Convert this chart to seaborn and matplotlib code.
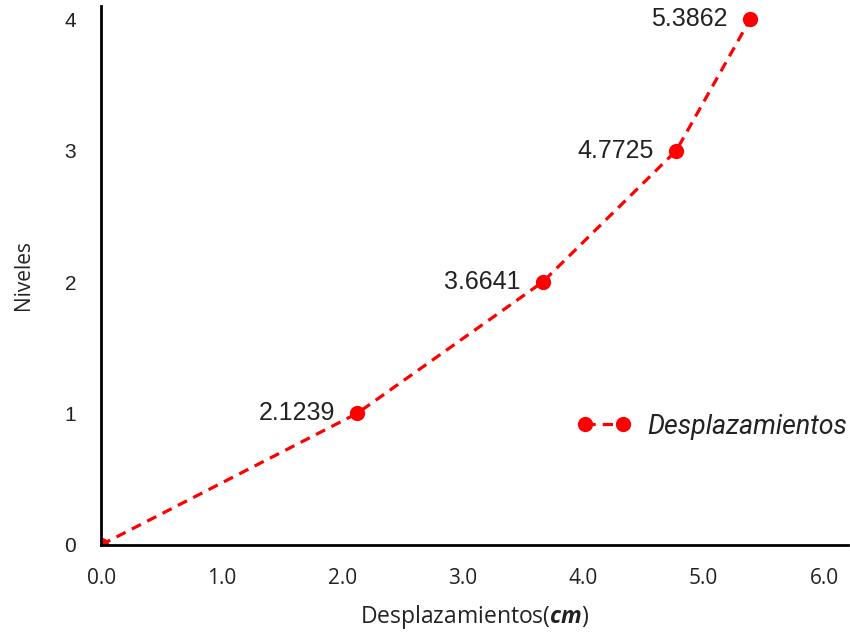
import matplotlib
matplotlib.use("Agg")
import matplotlib.pyplot as plt
import seaborn as sns
import pandas as pd

# Story displacement data
niveles = [0, 1, 2, 3, 4]
desplazamientos = [0.0, 2.1239, 3.6641, 4.7725, 5.3862]
etiquetas = ["", "2.1239", "3.6641", "4.7725", "5.3862"]
x_ticks = [0.0, 1.0, 2.0, 3.0, 4.0, 5.0, 6.0]
y_ticks = [0, 1, 2, 3, 4]

sns.set_theme(style="white")
plt.rcParams["font.family"] = ["Open Sans", "DejaVu Sans"]
plt.rcParams["mathtext.fontset"] = "custom"
plt.rcParams["mathtext.rm"] = "Open Sans"
plt.rcParams["mathtext.bfit"] = "Open Sans:italic:bold"

df = pd.DataFrame({"Desplazamientos": desplazamientos, "Niveles": niveles})

fig = plt.figure(figsize=(8.5, 6.35), dpi=100)
ax = fig.add_axes([0.119, 0.142, 0.879, 0.8485])

sns.lineplot(data=df, x="Desplazamientos", y="Niveles", ax=ax,
             color="#ff0000", linestyle="--", linewidth=2.3,
             marker="o", markersize=11, markeredgewidth=0,
             dashes=False, label="Desplazamientos", sort=False)
for l in ax.lines:
    l.set_linestyle((0, (3.2, 2.2)))

ax.set_xlim(0, 6.2)
ax.set_ylim(0, 4.1)
ax.set_xticks(x_ticks)
ax.set_xticklabels([f"{v:.1f}" for v in x_ticks], fontsize=15, color="#222222")
ax.set_yticks(y_ticks)
ax.set_yticklabels([str(v) for v in y_ticks], fontsize=15, color="#222222",
                   family=["Liberation Sans"])
ax.tick_params(axis="y", length=0, pad=18)
ax.tick_params(axis="x", length=0, pad=17)

for s in ["top", "right"]:
    ax.spines[s].set_visible(False)
for s in ["left", "bottom"]:
    ax.spines[s].set_color("black")
    ax.spines[s].set_linewidth(2)

for xv, yv, t in zip(desplazamientos, niveles, etiquetas):
    if t:
        ax.annotate(t, (xv, yv), xytext=(-16, 0), textcoords="offset points",
                    ha="right", va="center", fontsize=18, color="#222222",
                    family=["Liberation Sans"])

ax.set_xlabel(r"Desplazamientos($\mathbfit{cm}$)", fontsize=16.5, color="#222222", labelpad=10)
ax.set_ylabel("Niveles", fontsize=15, color="#222222", labelpad=22)

leg = ax.legend(loc="center left", bbox_to_anchor=(0.605, 0.219), frameon=False,
                numpoints=2, handlelength=2.0, handletextpad=0.6,
                prop={"family": "Roboto", "style": "italic", "size": 19.3})
for t in leg.get_texts():
    t.set_color("#222222")

fig.savefig("out.png", dpi=100)
